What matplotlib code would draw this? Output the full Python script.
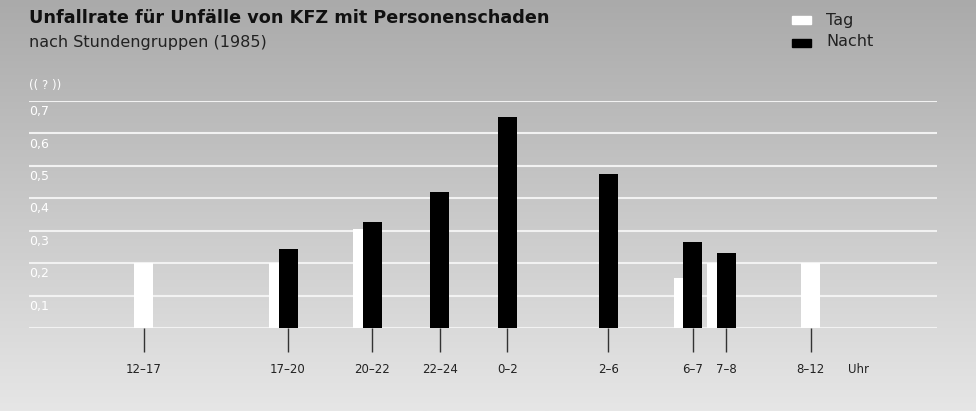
import numpy as np
import matplotlib
matplotlib.use("Agg")
import matplotlib.pyplot as plt

# Stundengruppen, Position auf der Zeitachse (Stunde ab Mittag, >24 = nächster Tag)
labels = ["12–17", "17–20", "20–22", "22–24", "0–2", "2–6", "6–7", "7–8", "8–12"]
pos = [14.22, 18.5, 21, 23, 25, 28, 30.5, 31.5, 34]

# Unfallrate (nan = kein Balken)
tag = [0.20, 0.20, 0.305, np.nan, np.nan, np.nan, 0.155, 0.20, 0.20]
nacht = [np.nan, 0.245, 0.328, 0.42, 0.652, 0.475, 0.265, 0.23, np.nan]

yticks = [0.1, 0.2, 0.3, 0.4, 0.5, 0.6, 0.7]

W, H = 976, 411
fig = plt.figure(figsize=(W / 100, H / 100), dpi=100)

# background gradient
bg = fig.add_axes([0, 0, 1, 1])
grad = np.linspace(0, 1, 256).reshape(-1, 1)
bg.imshow(grad, aspect="auto", cmap=matplotlib.colors.LinearSegmentedColormap.from_list(
    "g", ["#aaaaaa", "#e6e6e6"]), extent=[0, 1, 0, 1], origin="upper")
bg.axis("off")

ax = fig.add_axes([29 / W, 1 - 328 / H, (937 - 29) / W, (328 - 101) / H])
ax.patch.set_alpha(0)
ax.set_xlim(10.816, 37.75)
ax.set_ylim(0, 0.7)

bw = 0.5636
# only draw bars that have a value
for p, t, n in zip(pos, tag, nacht):
    off = -bw / 2 if not np.isnan(n) else 0
    if not np.isnan(t):
        ax.bar(p + off, t, width=bw, color="white", zorder=3)
for p, n in zip(pos, nacht):
    if not np.isnan(n):
        ax.bar(p, n, width=bw, color="black", zorder=4)

# gridlines
for y in [0] + yticks:
    ax.axhline(y, color="#f2f2f2", lw=1.5, zorder=1)
for y in yticks:
    ax.annotate(f"{y:.1f}".replace(".", ","), xy=(0, y), xycoords=("axes fraction", "data"),
                xytext=(0, -3), textcoords="offset points", ha="left", va="top",
                color="white", fontsize=9)
ax.text(0, 1.04, "(( ? ))", transform=ax.transAxes, color="white", fontsize=8.5,
        ha="left", va="bottom")

for s in ax.spines.values():
    s.set_visible(False)
ax.set_yticks([])
ax.set_xticks(pos)
ax.set_xticklabels(labels, fontsize=8.5, color="#222222")
ax.tick_params(axis="x", length=17, width=1, color="#333333", pad=8)

fig.text(848 / W, 1 - 369 / H, "Uhr", fontsize=8.5, color="#222222", ha="left", va="center")

# title
fig.text(29 / W, 1 - 18 / H, "Unfallrate für Unfälle von KFZ mit Personenschaden",
         fontsize=12.7, fontweight="bold", color="#111111", ha="left", va="center")
fig.text(29 / W, 1 - 43 / H, "nach Stundengruppen (1985)", fontsize=11.5,
         color="#222222", ha="left", va="center")

# legend
fig.patches.append(plt.Rectangle((792 / W, 1 - 24 / H), 19 / W, 8 / H,
                                 transform=fig.transFigure, color="white"))
fig.patches.append(plt.Rectangle((792 / W, 1 - 47 / H), 19 / W, 8 / H,
                                 transform=fig.transFigure, color="black"))
fig.text(826 / W, 1 - 20 / H, "Tag", fontsize=11.5, color="#222222", va="center")
fig.text(826 / W, 1 - 42 / H, "Nacht", fontsize=11.5, color="#222222", va="center")

fig.savefig("out.png", dpi=100)
